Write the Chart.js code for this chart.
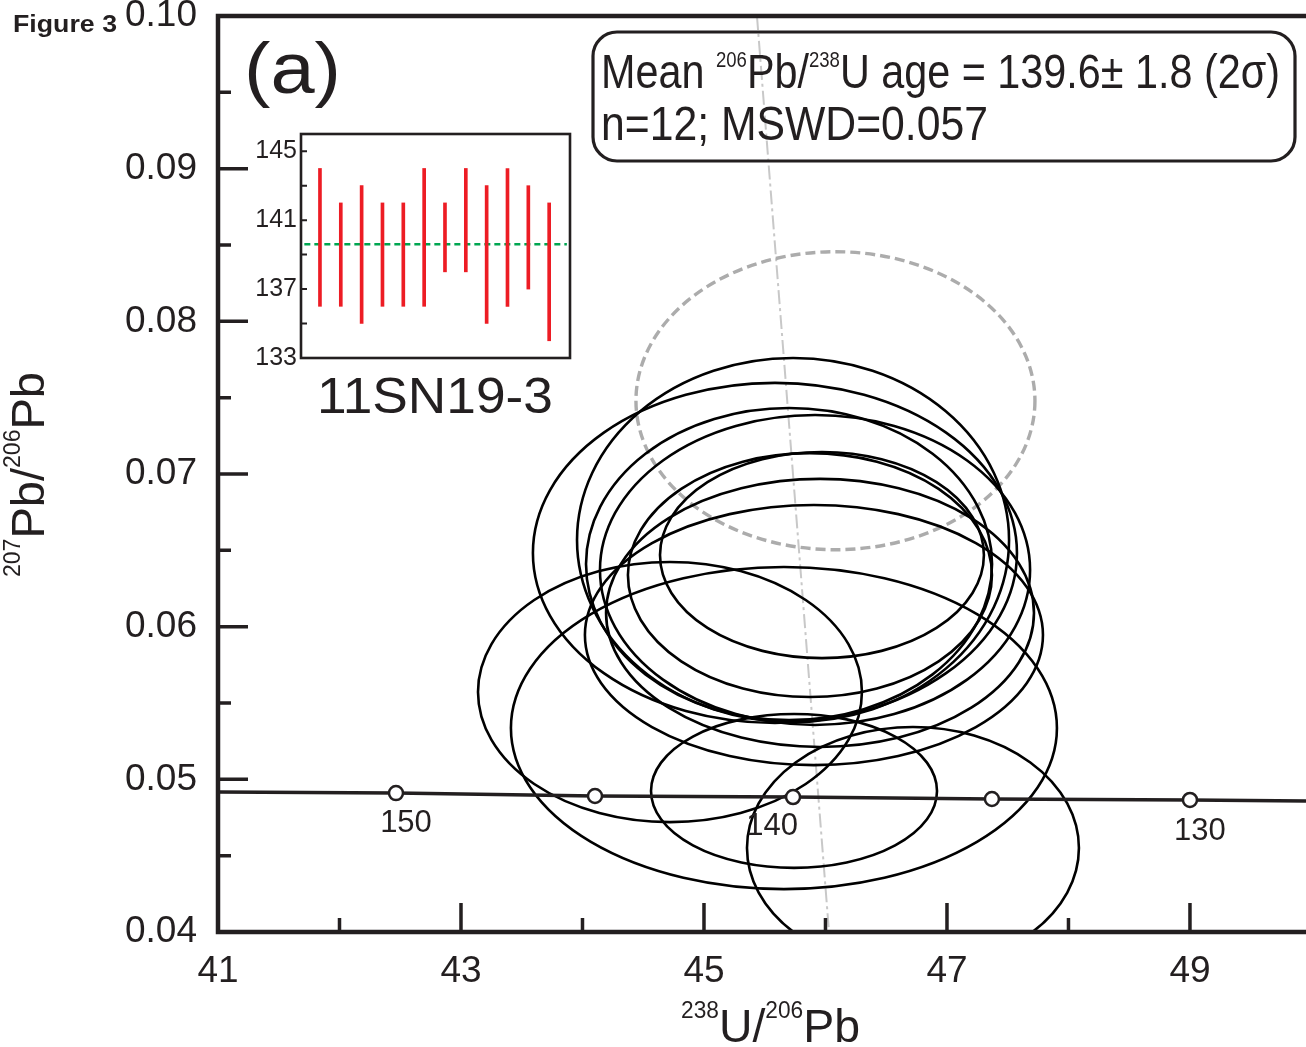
<!DOCTYPE html>
<html lang="en">
<head>
<meta charset="UTF-8">
<title>Figure 3 (a) 11SN19-3 concordia</title>
<script src="https://cdn.jsdelivr.net/npm/chart.js"></script>
<style>
  html, body { margin: 0; padding: 0; background: #fff; }
  .wrap { position: relative; width: 1306px; height: 1047px; overflow: hidden; }
  #mainChart { position: absolute; left: 0; top: 0; }
  #insetChart { position: absolute; left: 240px; top: 120px; }
</style>
</head>
<body>
<div class="wrap">
  <canvas id="mainChart" width="1306" height="1047"></canvas>
  <canvas id="insetChart" width="335" height="245"></canvas>
</div>
<script>
// ---- data ----
// axis ticks
const xMajor = [41, 43, 45, 47, 49];
const xMinor = [42, 44, 46, 48];
const yMajor = [0.04, 0.05, 0.06, 0.07, 0.08, 0.09, 0.10];
const yMinor = [0.045, 0.055, 0.065, 0.075, 0.085, 0.095];

// Tera-Wasserburg concordia, age marks in Ma
const concordiaAges = [150, 145, 140, 135, 130];
const concordiaX = [42.465, 44.103, 45.733, 47.370, 49.000];
const concordiaY = [0.04910, 0.04891, 0.04884, 0.04871, 0.04865];
const concordiaEndX = [41, 49.955];
const concordiaEndY = [0.04917, 0.04858];
const labelledAges = [150, 140, 130];

// analysis ellipses (centre, half axes)
const ellX  = [45.733, 45.584, 45.700, 45.914, 45.872, 45.971, 45.955, 45.905, 44.720, 45.658, 45.741, 46.720];
const ellY  = [0.06568, 0.06483, 0.06410, 0.06371, 0.06338, 0.06469, 0.06090, 0.05945, 0.05572, 0.05336, 0.04924, 0.04550];
const ellRX = [1.778, 1.992, 1.671, 1.770, 1.498, 1.333, 1.761, 1.885, 1.580, 2.247, 1.177, 1.366];
const ellRY = [0.01192, 0.01114, 0.01022, 0.01015, 0.00799, 0.00675, 0.00878, 0.00852, 0.00852, 0.01055, 0.00504, 0.00793];

// grey (excluded) ellipse and discordia reference line
const greyEll = [46.082, 0.0748, 1.642, 0.00976];
const refLineX = [45.436, 46.029];
const refLineY = [0.10, 0.04];

// inset: 206Pb/238U ages per spot
const spotNo   = [1, 2, 3, 4, 5, 6, 7, 8, 9, 10, 11, 12];
const ageLow   = [136, 136, 135, 136, 136, 136, 138, 138, 135, 136, 137, 134];
const ageHigh  = [144, 142, 143, 142, 142, 144, 142, 144, 143, 144, 143, 142];
const meanAge  = 139.6;
const insetTicks = [133, 137, 141, 145];
const insetMinor = [135, 139, 143];

// ---- drawing ----
const ink = '#231f20';
const FONT = '"Liberation Sans", Arial, Helvetica, sans-serif';

function fontStr(p) { return (p.bold ? 'bold ' : '') + p.size + 'px ' + FONT; }

function drawRich(ctx, parts, x, y, width, angle) {
  let natural = 0;
  for (const p of parts) { ctx.font = fontStr(p); natural += ctx.measureText(p.t).width; }
  ctx.save();
  ctx.translate(x, y);
  if (angle) ctx.rotate(angle);
  ctx.scale(width / natural, 1);
  ctx.fillStyle = ink;
  ctx.textAlign = 'left';
  ctx.textBaseline = 'alphabetic';
  let cx = 0;
  for (const p of parts) {
    ctx.font = fontStr(p);
    ctx.fillText(p.t, cx, -(p.rise || 0));
    cx += ctx.measureText(p.t).width;
  }
  ctx.restore();
}

function roundRect(ctx, x, y, w, h, r) {
  ctx.beginPath();
  ctx.moveTo(x + r, y);
  ctx.arcTo(x + w, y, x + w, y + h, r);
  ctx.arcTo(x + w, y + h, x, y + h, r);
  ctx.arcTo(x, y + h, x, y, r);
  ctx.arcTo(x, y, x + w, y, r);
  ctx.closePath();
}

function ellipseOnScales(ctx, xs, ys, cx, cy, rx, ry) {
  const px = xs.getPixelForValue(cx), py = ys.getPixelForValue(cy);
  const rpx = Math.abs(xs.getPixelForValue(cx + rx) - px);
  const rpy = Math.abs(ys.getPixelForValue(cy + ry) - py);
  ctx.beginPath();
  ctx.ellipse(px, py, rpx, rpy, 0, 0, Math.PI * 2);
}

// keep the plot area fixed: no extra room for overhanging tick labels
function noPad(s) { s.paddingTop = 0; s.paddingBottom = 0; s.paddingLeft = 0; s.paddingRight = 0; }

const ageLabelShift = { 150: [10, 30], 140: [-21, 29], 130: [10, 32] };

const twPlugin = {
  id: 'tw',
  beforeDatasetsDraw(chart) {
    const { ctx, chartArea: a, scales: { x, y } } = chart;
    ctx.save();
    ctx.beginPath();
    ctx.rect(a.left, a.top, a.right - a.left, a.bottom - a.top);
    ctx.clip();
    // dash-dot reference line
    ctx.strokeStyle = '#c8c8c8';
    ctx.lineWidth = 2;
    ctx.setLineDash([14, 4, 3, 4]);
    ctx.beginPath();
    ctx.moveTo(x.getPixelForValue(refLineX[0]), y.getPixelForValue(refLineY[0]));
    ctx.lineTo(x.getPixelForValue(refLineX[1]), y.getPixelForValue(refLineY[1]));
    ctx.stroke();
    // grey dashed ellipse
    ctx.strokeStyle = '#acacac';
    ctx.lineWidth = 3.4;
    ctx.setLineDash([10, 5]);
    ellipseOnScales(ctx, x, y, greyEll[0], greyEll[1], greyEll[2], greyEll[3]);
    ctx.stroke();
    // analysis ellipses
    ctx.setLineDash([]);
    ctx.strokeStyle = '#000';
    ctx.lineWidth = 2.6;
    for (let i = 0; i < ellX.length; i++) {
      ellipseOnScales(ctx, x, y, ellX[i], ellY[i], ellRX[i], ellRY[i]);
      ctx.stroke();
    }
    ctx.restore();
  },
  afterDatasetsDraw(chart) {
    const { ctx, chartArea: a, scales: { x, y } } = chart;
    ctx.save();
    // inward ticks
    ctx.strokeStyle = ink;
    ctx.lineWidth = 3.5;
    ctx.beginPath();
    yMajor.slice(1, -1).forEach(v => { const py = y.getPixelForValue(v); ctx.moveTo(a.left, py); ctx.lineTo(a.left + 30, py); });
    yMinor.forEach(v => { const py = y.getPixelForValue(v); ctx.moveTo(a.left, py); ctx.lineTo(a.left + 13, py); });
    xMajor.slice(1).forEach(v => { const px = x.getPixelForValue(v); ctx.moveTo(px, a.bottom); ctx.lineTo(px, a.bottom - 29); });
    xMinor.forEach(v => { const px = x.getPixelForValue(v); ctx.moveTo(px, a.bottom); ctx.lineTo(px, a.bottom - 14); });
    ctx.stroke();
    // frame (right side is off the page)
    ctx.lineWidth = 4.5;
    ctx.beginPath();
    ctx.moveTo(a.right + 5, a.top);
    ctx.lineTo(a.left, a.top);
    ctx.lineTo(a.left, a.bottom);
    ctx.lineTo(a.right + 5, a.bottom);
    ctx.stroke();

    // age labels on concordia
    ctx.fillStyle = ink;
    ctx.font = '31px ' + FONT;
    ctx.textAlign = 'center';
    ctx.textBaseline = 'middle';
    labelledAges.forEach(age => {
      const i = concordiaAges.indexOf(age);
      const s = ageLabelShift[age];
      ctx.fillText(String(age), x.getPixelForValue(concordiaX[i]) + s[0], y.getPixelForValue(concordiaY[i]) + s[1]);
    });

    // result box (open, the reference line shows through)
    ctx.lineWidth = 3.2;
    ctx.strokeStyle = ink;
    roundRect(ctx, 593, 32, 702, 129, 24);
    ctx.stroke();
    drawRich(ctx, [
      { t: 'Mean ', size: 49 }, { t: '206', size: 22, rise: 21 }, { t: 'Pb/', size: 49 },
      { t: '238', size: 22, rise: 21 }, { t: 'U age = 139.6\u00b1 1.8 (2\u03c3)', size: 49 }
    ], 601, 88, 679);
    drawRich(ctx, [{ t: 'n=12; MSWD=0.057', size: 49 }], 601, 140, 387);

    // panel label, sample name, figure tag
    drawRich(ctx, [{ t: '(a)', size: 72 }], 244, 93, 97);
    drawRich(ctx, [{ t: '11SN19-3', size: 50 }], 317, 413, 236);
    drawRich(ctx, [{ t: 'Figure 3', size: 23, bold: true }], 13, 32, 104);

    // axis titles
    drawRich(ctx, [
      { t: '238', size: 23, rise: 24 }, { t: 'U/', size: 47 }, { t: '206', size: 23, rise: 24 }, { t: 'Pb', size: 47 }
    ], 681, 1042, 179);
    drawRich(ctx, [
      { t: '207', size: 23, rise: 24 }, { t: 'Pb/', size: 47 }, { t: '206', size: 23, rise: 24 }, { t: 'Pb', size: 47 }
    ], 44, 577, 205, -Math.PI / 2);
    ctx.restore();
  }
};

const concordiaData = [{ x: concordiaEndX[0], y: concordiaEndY[0] }]
  .concat(concordiaX.map((v, i) => ({ x: v, y: concordiaY[i] })))
  .concat([{ x: concordiaEndX[1], y: concordiaEndY[1] }]);

new Chart(document.getElementById('mainChart'), {
  type: 'scatter',
  data: {
    datasets: [{
      label: 'concordia',
      data: concordiaData,
      showLine: true,
      borderColor: ink,
      borderWidth: 3.5,
      pointRadius: ctx => (ctx.dataIndex === 0 || ctx.dataIndex === concordiaData.length - 1) ? 0 : 7,
      pointBackgroundColor: '#fff',
      pointBorderColor: ink,
      pointBorderWidth: 2.5,
      clip: false
    }]
  },
  options: {
    responsive: false,
    animation: false,
    layout: { padding: { top: 16, right: 0, left: 0, bottom: 0 } },
    plugins: { legend: { display: false }, tooltip: { enabled: false } },
    scales: {
      x: {
        type: 'linear', min: 41, max: 49.955,
        afterBuildTicks: s => { s.ticks = xMajor.map(v => ({ value: v })); },
        afterFit: s => { s.height = 115; noPad(s); },
        grid: { display: false, drawTicks: false },
        border: { display: false },
        ticks: { color: ink, padding: 25, font: { family: FONT, size: 37, lineHeight: 0.8 }, callback: v => String(v) }
      },
      y: {
        type: 'linear', min: 0.04, max: 0.10,
        afterBuildTicks: s => { s.ticks = yMajor.map(v => ({ value: v })); },
        afterFit: s => { s.width = 218; noPad(s); },
        grid: { display: false, drawTicks: false },
        border: { display: false },
        ticks: { color: ink, padding: 21, font: { family: FONT, size: 37, lineHeight: 0.8 }, callback: v => v.toFixed(2) }
      }
    }
  },
  plugins: [twPlugin]
});

// ---- inset ----
const insetFrame = {
  id: 'insetFrame',
  afterDraw(chart) {
    const { ctx, chartArea: a, scales: { y } } = chart;
    ctx.save();
    ctx.strokeStyle = ink;
    ctx.lineWidth = 2;
    ctx.beginPath();
    insetTicks.concat(insetMinor).forEach(v => {
      const py = y.getPixelForValue(v);
      ctx.moveTo(a.left, py); ctx.lineTo(a.left + 6, py);
    });
    ctx.stroke();
    ctx.lineWidth = 2.6;
    ctx.strokeRect(a.left, a.top, a.right - a.left, a.bottom - a.top);
    ctx.restore();
  }
};

new Chart(document.getElementById('insetChart'), {
  data: {
    datasets: [{
      type: 'bar',
      label: 'ages',
      data: spotNo.map((n, i) => ({ x: n, y: [ageLow[i], ageHigh[i]] })),
      backgroundColor: '#ed1c24',
      barThickness: 3,
      borderWidth: 0
    }, {
      type: 'line',
      label: 'mean',
      data: [{ x: 0.25, y: meanAge }, { x: 12.85, y: meanAge }],
      borderColor: '#00a651',
      borderWidth: 2.5,
      borderDash: [6, 4],
      pointRadius: 0
    }]
  },
  options: {
    responsive: false,
    animation: false,
    layout: { padding: { top: 14, right: 5, left: 0, bottom: 0 } },
    plugins: { legend: { display: false }, tooltip: { enabled: false } },
    scales: {
      x: {
        type: 'linear', min: 0.09, max: 13, offset: false,
        afterFit: s => { s.height = 7; noPad(s); },
        grid: { display: false, drawTicks: false, offset: false },
        border: { display: false },
        ticks: { display: false }
      },
      y: {
        type: 'linear', min: 133, max: 146,
        afterBuildTicks: s => { s.ticks = insetTicks.map(v => ({ value: v })); },
        afterFit: s => { s.width = 61; noPad(s); },
        grid: { display: false, drawTicks: false },
        border: { display: false },
        ticks: { color: ink, padding: 4, font: { family: FONT, size: 25, lineHeight: 0.8 } }
      }
    }
  },
  plugins: [insetFrame]
});
</script>
</body>
</html>
